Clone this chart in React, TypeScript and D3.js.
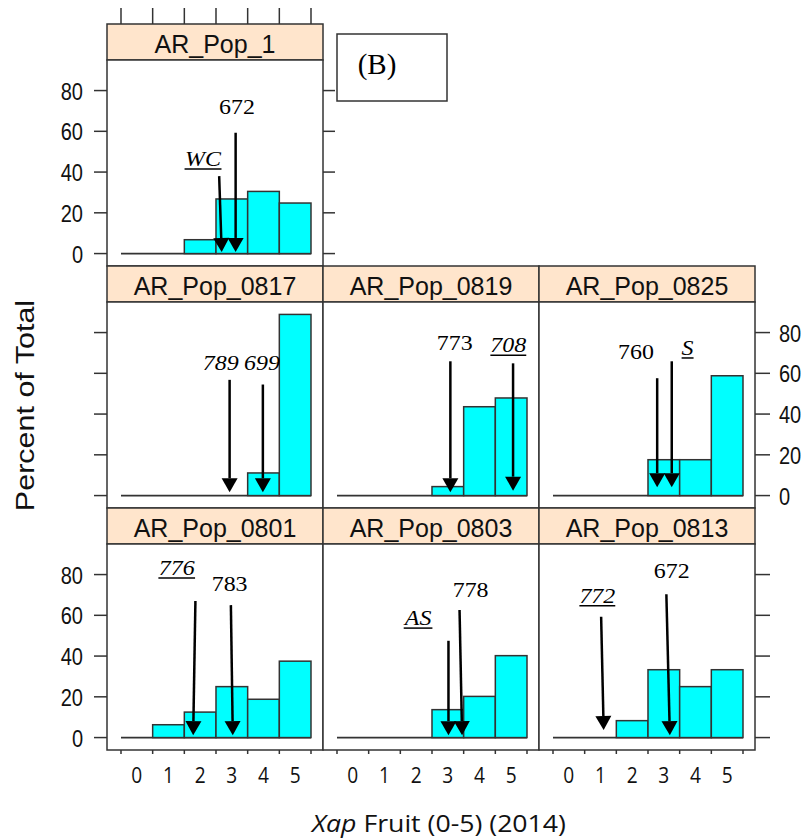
import { useEffect, useRef } from "react"
import * as d3 from "d3"

// panels in reading order (lattice layout: one panel on top, then two rows of three)
const panelNames = ["AR_Pop_1", "AR_Pop_0817", "AR_Pop_0819", "AR_Pop_0825", "AR_Pop_0801", "AR_Pop_0803", "AR_Pop_0813"]
const panelRows = [0, 1, 1, 1, 2, 2, 2]
const panelCols = [0, 0, 1, 2, 0, 1, 2]

const fruitScores = [0, 1, 2, 3, 4, 5]
const yTicks = [0, 20, 40, 60, 80]

// percent of total per fruit score (0-5)
const pctPop1 = [0, 0, 6.8, 26.8, 30.5, 24.8]
const pctPop0817 = [0, 0, 0, 0, 11.1, 88.9]
const pctPop0819 = [0, 0, 0, 4.4, 43.6, 47.9]
const pctPop0825 = [0, 0, 0, 17.6, 17.6, 58.8]
const pctPop0801 = [0, 6.3, 12.5, 25, 18.8, 37.5]
const pctPop0803 = [0, 0, 0, 13.7, 20.2, 40.2]
const pctPop0813 = [0, 0, 8.3, 33.3, 25, 33.3]
const panelValues = [pctPop1, pctPop0817, pctPop0819, pctPop0825, pctPop0801, pctPop0803, pctPop0813]

// arrows marking individual genotypes, in data units of each panel
const markers = [
  { panel: 0, label: "WC", xTop: 2.6, xTip: 2.68, yTop: 38, yTip: 0.8, labelX: 2.09, labelY: 43, italic: true, underline: true },
  { panel: 0, label: "672", xTop: 3.12, xTip: 3.12, yTop: 59.3, yTip: 0.8, labelX: 3.16, labelY: 68.3, italic: false, underline: false },
  { panel: 1, label: "789", xTop: 2.93, xTip: 2.93, yTop: 56.8, yTip: 1.6, labelX: 2.65, labelY: 61.8, italic: true, underline: false },
  { panel: 1, label: "699", xTop: 3.98, xTip: 3.98, yTop: 54.5, yTip: 1.6, labelX: 3.95, labelY: 61.8, italic: true, underline: false },
  { panel: 2, label: "773", xTop: 3.08, xTip: 3.08, yTop: 65.9, yTip: 1.6, labelX: 3.22, labelY: 71.4, italic: false, underline: false },
  { panel: 2, label: "708", xTop: 5.06, xTip: 5.06, yTop: 64.9, yTip: 2.4, labelX: 4.91, labelY: 70.3, italic: true, underline: true },
  { panel: 3, label: "760", xTop: 2.79, xTip: 2.79, yTop: 57.6, yTip: 4.1, labelX: 2.12, labelY: 66.8, italic: false, underline: false },
  { panel: 3, label: "S", xTop: 3.25, xTip: 3.25, yTop: 65.9, yTip: 4.1, labelX: 3.75, labelY: 69, italic: true, underline: true },
  { panel: 4, label: "776", xTop: 1.85, xTip: 1.78, yTop: 67, yTip: 1.2, labelX: 1.26, labelY: 79.8, italic: true, underline: true },
  { panel: 4, label: "783", xTop: 2.97, xTip: 3.03, yTop: 65, yTip: 1.2, labelX: 2.93, labelY: 72, italic: false, underline: false },
  { panel: 5, label: "AS", xTop: 3.02, xTip: 3.02, yTop: 47.5, yTip: 1.2, labelX: 2.06, labelY: 55.2, italic: true, underline: true },
  { panel: 5, label: "778", xTop: 3.37, xTip: 3.45, yTop: 62.6, yTip: 1.2, labelX: 3.72, labelY: 69.1, italic: false, underline: false },
  { panel: 6, label: "772", xTop: 1.02, xTip: 1.1, yTop: 59.3, yTip: 3.7, labelX: 0.9, labelY: 66.2, italic: true, underline: true },
  { panel: 6, label: "672", xTop: 3.08, xTip: 3.19, yTop: 70.3, yTip: 1.2, labelX: 3.25, labelY: 78.1, italic: false, underline: false },
]

const SANS = "'Liberation Sans', Arial, sans-serif"
const SERIF = "'Liberation Serif', 'Times New Roman', serif"
const OPEN = "'Open Sans', sans-serif"
const INK = "#333"

export default function App() {
  const svgRef = useRef<SVGSVGElement>(null)

  useEffect(() => {
    if (!svgRef.current) return
    const width = 807
    const height = 840

    const root = d3.select(svgRef.current)
    root.selectAll("*").remove()
    root.attr("width", width).attr("height", height)

    const colBand = d3.scaleBand<number>().domain([0, 1, 2]).range([107, 755])
    const rowBand = d3.scaleBand<number>().domain([0, 1, 2]).range([24, 750])
    const stripH = 36
    const panelW = colBand.bandwidth()
    const panelH = rowBand.bandwidth() - stripH

    const x = d3.scaleLinear().domain([-0.942, 5.879]).range([0, panelW])
    const y = d3.scaleLinear().domain([-6.1, 95]).range([panelH, 0])
    const edges = [...fruitScores.map((d) => d - 0.5), 5.5]

    // text helper, sx squeezes or widens glyphs like the source picture
    const addText = (g: any, tx: number, ty: number, txt: string, size: number, family: string, anchor: string, sx = 1) =>
      g
        .append("text")
        .attr("transform", `translate(${tx},${ty}) scale(${sx},1)`)
        .attr("text-anchor", anchor)
        .style("font-family", family)
        .style("font-size", size + "px")
        .attr("fill", "#111")
        .text(txt)

    panelNames.forEach((name, i) => {
      const row = panelRows[i]
      const col = panelCols[i]
      const values = panelValues[i]
      const g = root.append("g").attr("transform", `translate(${colBand(col)},${rowBand(row)})`)

      // strip
      g.append("rect")
        .attr("width", panelW)
        .attr("height", stripH)
        .attr("fill", "#ffe5cc")
        .attr("stroke", INK)
        .attr("stroke-width", 1.5)
      addText(g, panelW / 2, stripH - 7, name, 25, SANS, "middle")

      // top ticks only above the single top panel
      if (row === 0) {
        g.selectAll(".ttick")
          .data(edges)
          .enter()
          .append("line")
          .attr("x1", (d) => x(d))
          .attr("x2", (d) => x(d))
          .attr("y1", -16)
          .attr("y2", 0)
          .attr("stroke", INK)
          .attr("stroke-width", 1.5)
      }

      const p = g.append("g").attr("transform", `translate(0,${stripH})`)
      p.append("rect")
        .attr("width", panelW)
        .attr("height", panelH)
        .attr("fill", "white")
        .attr("stroke", INK)
        .attr("stroke-width", 1.5)

      // zero line (empty bins)
      p.append("line")
        .attr("x1", x(-0.5))
        .attr("x2", x(5.5))
        .attr("y1", y(0))
        .attr("y2", y(0))
        .attr("stroke", INK)
        .attr("stroke-width", 1.8)

      p.selectAll(".bar")
        .data(fruitScores.filter((s) => values[s] > 0))
        .enter()
        .append("rect")
        .attr("x", (s) => x(s - 0.5))
        .attr("width", (s) => x(s + 0.5) - x(s - 0.5))
        .attr("y", (s) => y(values[s]))
        .attr("height", (s) => y(0) - y(values[s]))
        .attr("fill", "#00ffff")
        .attr("stroke", INK)
        .attr("stroke-width", 1.5)

      // arrows
      markers
        .filter((m) => m.panel === i)
        .forEach((m) => {
          const x0 = x(m.xTop)
          const y0 = y(m.yTop)
          const x1 = x(m.xTip)
          const y1 = y(m.yTip)
          const len = Math.hypot(x1 - x0, y1 - y0)
          const dx = (x1 - x0) / len
          const dy = (y1 - y0) / len
          const headL = 14
          const headW = 8
          const bx = x1 - dx * headL
          const by = y1 - dy * headL
          p.append("line")
            .attr("x1", x0)
            .attr("y1", y0)
            .attr("x2", bx)
            .attr("y2", by)
            .attr("stroke", "#000")
            .attr("stroke-width", 2.5)
          p.append("path")
            .attr(
              "d",
              `M${x1},${y1}L${bx - dy * headW},${by + dx * headW}L${bx + dy * headW},${by - dx * headW}Z`
            )
            .attr("fill", "#000")

          const t = addText(p, x(m.labelX), y(m.labelY), m.label, 21, SERIF, "middle", 1.14)
          t.attr("fill", "#000")
          if (m.italic) t.style("font-style", "italic")
          if (m.underline) {
            const w = (t.node() as SVGTextElement).getBBox().width * 1.14
            p.append("line")
              .attr("x1", x(m.labelX) - w / 2)
              .attr("x2", x(m.labelX) + w / 2)
              .attr("y1", y(m.labelY) + 3)
              .attr("y2", y(m.labelY) + 3)
              .attr("stroke", "#000")
              .attr("stroke-width", 1.5)
          }
        })

      // left axis
      if (col === 0) {
        yTicks.forEach((t) => {
          p.append("line")
            .attr("x1", -13)
            .attr("x2", 0)
            .attr("y1", y(t))
            .attr("y2", y(t))
            .attr("stroke", INK)
            .attr("stroke-width", 1.5)
          if (row !== 1) addText(p, -24, y(t) + 9, String(t), 23, SANS, "end", 0.87)
        })
      }

      // right axis on last panel of each row
      const lastInRow = row === 0 ? col === 0 : col === 2
      if (lastInRow) {
        yTicks.forEach((t) => {
          p.append("line")
            .attr("x1", panelW)
            .attr("x2", panelW + (row === 0 ? 12 : 15))
            .attr("y1", y(t))
            .attr("y2", y(t))
            .attr("stroke", INK)
            .attr("stroke-width", 1.5)
          if (row === 1) addText(p, panelW + 24, y(t) + 9, String(t), 23, SANS, "start", 0.87)
        })
      }

      // bottom axis
      if (row === 2) {
        edges.forEach((e) => {
          p.append("line")
            .attr("x1", x(e))
            .attr("x2", x(e))
            .attr("y1", panelH)
            .attr("y2", panelH + 4)
            .attr("stroke", INK)
            .attr("stroke-width", 1.5)
        })
        fruitScores.forEach((s) => {
          addText(p, x(s), panelH + 33, String(s), 22, OPEN, "middle", 0.87)
        })
      }
    })

    // (B) label box
    root
      .append("rect")
      .attr("x", 337)
      .attr("y", 34)
      .attr("width", 110)
      .attr("height", 67)
      .attr("fill", "white")
      .attr("stroke", INK)
      .attr("stroke-width", 1.5)
    addText(root, 377, 74, "(B)", 29, SERIF, "middle").attr("fill", "#000")

    // y axis title
    root
      .append("text")
      .attr("transform", "translate(34,405.5) rotate(-90) scale(1.22,1)")
      .attr("text-anchor", "middle")
      .style("font-family", SANS)
      .style("font-size", "25px")
      .attr("fill", "#111")
      .text("Percent of Total")

    // x axis title
    const xt = root
      .append("text")
      .attr("transform", "translate(439,832) scale(1.16,1)")
      .attr("text-anchor", "middle")
      .style("font-family", OPEN)
      .style("font-size", "23px")
      .attr("fill", "#111")
    xt.append("tspan").style("font-style", "italic").text("Xap")
    xt.append("tspan").text(" Fruit (0-5) (2014)")
  }, [])

  return (
    <div style={{ position: "absolute", left: 0, top: 0 }}>
      <svg ref={svgRef} style={{ display: "block" }}></svg>
    </div>
  )
}
